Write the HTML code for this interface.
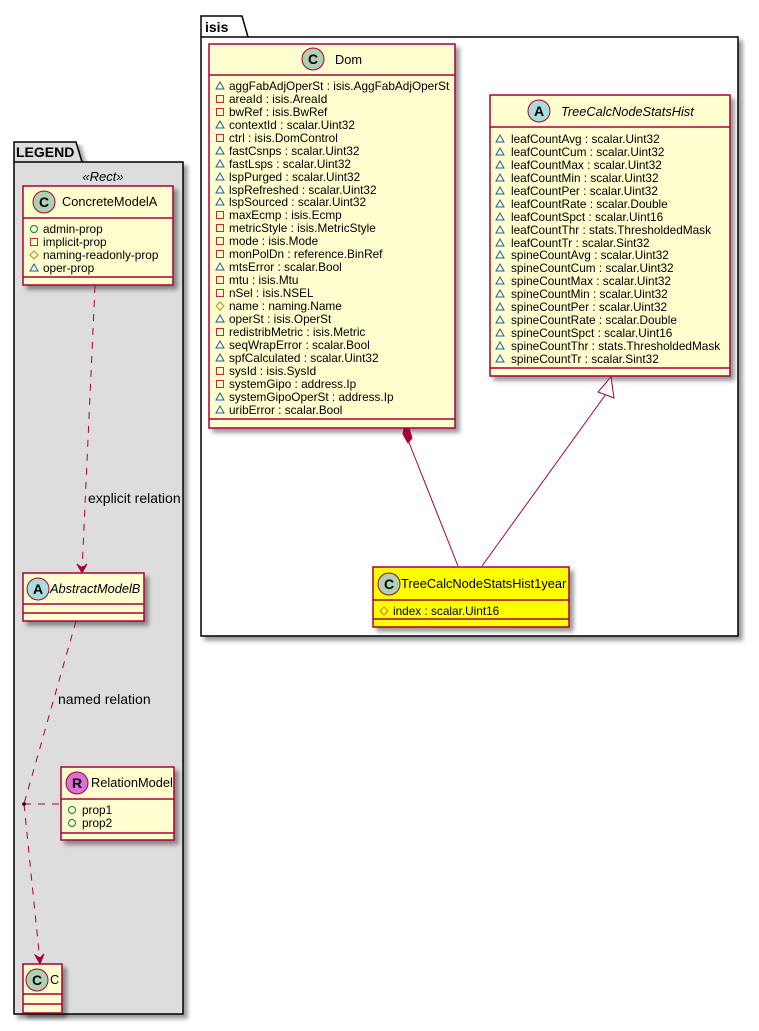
<!DOCTYPE html>
<html><head><meta charset="utf-8"><style>
html,body{margin:0;padding:0;background:#fff;width:759px;height:1031px;overflow:hidden}
svg text{font-family:"Liberation Sans",sans-serif;fill:#000}
</style></head><body>
<svg width="759" height="1031" viewBox="0 0 759 1031" xmlns="http://www.w3.org/2000/svg">
<defs>
<filter id="sh" x="-10%" y="-10%" width="130%" height="130%"><feGaussianBlur in="SourceAlpha" stdDeviation="2"/><feOffset dx="4" dy="4"/><feComponentTransfer><feFuncA type="linear" slope="0.4"/></feComponentTransfer><feMerge><feMergeNode/><feMergeNode in="SourceGraphic"/></feMerge></filter>
<g id="tri"><polygon points="-4,3 4,3 0,-4" fill="none" stroke="#1963A0" stroke-width="1"/></g>
<g id="sq"><rect x="-3.5" y="-3.5" width="7" height="7" fill="none" stroke="#C82930" stroke-width="1"/></g>
<g id="dia"><polygon points="0,-4 4,0 0,4 -4,0" fill="none" stroke="#B38D22" stroke-width="1"/></g>
<g id="cir"><circle r="3.5" fill="none" stroke="#038048" stroke-width="1"/></g>
</defs>

<!-- LEGEND package -->
<path d="M14,162 L14,142 L76,142 L82,162" fill="#DDDDDD" stroke="#000" stroke-width="1.5" filter="url(#sh)"/>
<rect x="14" y="162" width="169" height="852" fill="#DDDDDD" stroke="#000" stroke-width="1.5" filter="url(#sh)"/>
<text x="16" y="157" font-size="14" font-weight="bold">LEGEND</text>
<text x="103" y="181" font-size="13" font-style="italic" text-anchor="middle">«Rect»</text>

<!-- isis package -->
<path d="M201,37 L201,16 L242,16 L248,37" fill="#fff" stroke="#000" stroke-width="1.5"/>
<rect x="201" y="37" width="537" height="599" fill="#fff" stroke="#000" stroke-width="1.5" filter="url(#sh)"/>
<text x="205" y="32" font-size="14" font-weight="bold">isis</text>

<!-- ConcreteModelA -->
<g>
<rect x="23" y="186" width="150" height="99" fill="#FEFECE" stroke="#A80036" stroke-width="1.5" filter="url(#sh)"/>
<line x1="23" y1="218" x2="173" y2="218" stroke="#A80036" stroke-width="1.5"/>
<line x1="23" y1="277" x2="173" y2="277" stroke="#A80036" stroke-width="1.5"/>
<circle cx="44" cy="202" r="11" fill="#ADD1B2" stroke="#A80036"/>
<text x="44" y="207" font-size="14" font-weight="bold" text-anchor="middle">C</text>
<text x="62" y="206" font-size="12.8">ConcreteModelA</text>
<g font-size="11.8">
<use href="#cir" x="34" y="229"/><text x="43" y="233">admin-prop</text>
<use href="#sq" x="34" y="242"/><text x="43" y="246">implicit-prop</text>
<use href="#dia" x="34" y="255"/><text x="43" y="259">naming-readonly-prop</text>
<use href="#tri" x="34" y="268"/><text x="43" y="272">oper-prop</text>
</g>
</g>

<!-- AbstractModelB -->
<rect x="23" y="573" width="121" height="48" fill="#FEFECE" stroke="#A80036" stroke-width="1.5" filter="url(#sh)"/>
<line x1="23" y1="604" x2="144" y2="604" stroke="#A80036" stroke-width="1.5"/>
<line x1="23" y1="613" x2="144" y2="613" stroke="#A80036" stroke-width="1.5"/>
<circle cx="38" cy="589" r="11" fill="#A9DCDF" stroke="#A80036"/>
<text x="38" y="594" font-size="14" font-weight="bold" text-anchor="middle">A</text>
<text x="50" y="593" font-size="12.8" font-style="italic">AbstractModelB</text>

<!-- RelationModel -->
<rect x="61" y="767" width="113" height="73" fill="#FEFECE" stroke="#A80036" stroke-width="1.5" filter="url(#sh)"/>
<line x1="61" y1="799" x2="174" y2="799" stroke="#A80036" stroke-width="1.5"/>
<line x1="61" y1="833" x2="174" y2="833" stroke="#A80036" stroke-width="1.5"/>
<circle cx="77" cy="783" r="11" fill="#DA70D6" stroke="#A80036"/>
<text x="77" y="788" font-size="14" font-weight="bold" text-anchor="middle">R</text>
<text x="91" y="787" font-size="12.8">RelationModel</text>
<use href="#cir" x="72" y="810"/><text x="82" y="814" font-size="11.8">prop1</text>
<use href="#cir" x="72" y="823"/><text x="82" y="827" font-size="11.8">prop2</text>

<!-- C -->
<rect x="23" y="964" width="39" height="49" fill="#FEFECE" stroke="#A80036" stroke-width="1.5" filter="url(#sh)"/>
<line x1="23" y1="994" x2="62" y2="994" stroke="#A80036" stroke-width="1.5"/>
<line x1="23" y1="1004" x2="62" y2="1004" stroke="#A80036" stroke-width="1.5"/>
<circle cx="37" cy="980" r="11" fill="#ADD1B2" stroke="#A80036"/>
<text x="37" y="985" font-size="14" font-weight="bold" text-anchor="middle">C</text>
<text x="50" y="984" font-size="12.8">C</text>

<!-- legend relations -->
<g stroke="#A80036" stroke-width="1" fill="none" stroke-dasharray="7,7">
<path d="M95,286 L82,571"/>
<path d="M76,621 L24,804"/>
<path d="M24,804 L40,962"/>
<path d="M24,804 L61,804"/>
</g>
<path d="M77,564 L82,573 L87,564 L82,568 Z" fill="#A80036" stroke="#A80036"/>
<path d="M35,955 L40,964 L44,954 L40,958 Z" fill="#A80036" stroke="#A80036"/>
<circle cx="24" cy="804" r="1.8" fill="#000"/>
<text x="88" y="503" font-size="14">explicit relation</text>
<text x="58" y="704" font-size="14">named relation</text>

<!-- Dom -->
<rect x="209" y="44" width="246" height="384" fill="#FEFECE" stroke="#A80036" stroke-width="1.5" filter="url(#sh)"/>
<line x1="209" y1="75" x2="455" y2="75" stroke="#A80036" stroke-width="1.5"/>
<line x1="209" y1="419" x2="455" y2="419" stroke="#A80036" stroke-width="1.5"/>
<circle cx="313" cy="59" r="11" fill="#ADD1B2" stroke="#A80036"/>
<text x="313" y="64" font-size="14" font-weight="bold" text-anchor="middle">C</text>
<text x="335" y="64" font-size="12.8">Dom</text>
<g font-size="11.8">
<use href="#tri" x="220" y="86"/><text x="229" y="90">aggFabAdjOperSt : isis.AggFabAdjOperSt</text>
<use href="#sq" x="220" y="99"/><text x="229" y="103">areaId : isis.AreaId</text>
<use href="#sq" x="220" y="112"/><text x="229" y="116">bwRef : isis.BwRef</text>
<use href="#tri" x="220" y="125"/><text x="229" y="129">contextId : scalar.Uint32</text>
<use href="#sq" x="220" y="138"/><text x="229" y="142">ctrl : isis.DomControl</text>
<use href="#tri" x="220" y="151"/><text x="229" y="155">fastCsnps : scalar.Uint32</text>
<use href="#tri" x="220" y="164"/><text x="229" y="168">fastLsps : scalar.Uint32</text>
<use href="#tri" x="220" y="177"/><text x="229" y="181">lspPurged : scalar.Uint32</text>
<use href="#tri" x="220" y="190"/><text x="229" y="194">lspRefreshed : scalar.Uint32</text>
<use href="#tri" x="220" y="202"/><text x="229" y="206">lspSourced : scalar.Uint32</text>
<use href="#sq" x="220" y="215"/><text x="229" y="219">maxEcmp : isis.Ecmp</text>
<use href="#sq" x="220" y="228"/><text x="229" y="232">metricStyle : isis.MetricStyle</text>
<use href="#sq" x="220" y="241"/><text x="229" y="245">mode : isis.Mode</text>
<use href="#sq" x="220" y="254"/><text x="229" y="258">monPolDn : reference.BinRef</text>
<use href="#tri" x="220" y="267"/><text x="229" y="271">mtsError : scalar.Bool</text>
<use href="#sq" x="220" y="280"/><text x="229" y="284">mtu : isis.Mtu</text>
<use href="#sq" x="220" y="293"/><text x="229" y="297">nSel : isis.NSEL</text>
<use href="#dia" x="220" y="306"/><text x="229" y="310">name : naming.Name</text>
<use href="#tri" x="220" y="319"/><text x="229" y="323">operSt : isis.OperSt</text>
<use href="#sq" x="220" y="332"/><text x="229" y="336">redistribMetric : isis.Metric</text>
<use href="#tri" x="220" y="345"/><text x="229" y="349">seqWrapError : scalar.Bool</text>
<use href="#tri" x="220" y="358"/><text x="229" y="362">spfCalculated : scalar.Uint32</text>
<use href="#sq" x="220" y="371"/><text x="229" y="375">sysId : isis.SysId</text>
<use href="#sq" x="220" y="384"/><text x="229" y="388">systemGipo : address.Ip</text>
<use href="#tri" x="220" y="397"/><text x="229" y="401">systemGipoOperSt : address.Ip</text>
<use href="#tri" x="220" y="410"/><text x="229" y="414">uribError : scalar.Bool</text>
</g>

<!-- TreeCalcNodeStatsHist -->
<rect x="490" y="95" width="240" height="281" fill="#FEFECE" stroke="#A80036" stroke-width="1.5" filter="url(#sh)"/>
<line x1="490" y1="127" x2="730" y2="127" stroke="#A80036" stroke-width="1.5"/>
<line x1="490" y1="368" x2="730" y2="368" stroke="#A80036" stroke-width="1.5"/>
<circle cx="539" cy="111" r="11" fill="#A9DCDF" stroke="#A80036"/>
<text x="539" y="116" font-size="14" font-weight="bold" text-anchor="middle">A</text>
<text x="561" y="116" font-size="12.8" font-style="italic">TreeCalcNodeStatsHist</text>
<g font-size="11.8">
<use href="#tri" x="500" y="139"/><text x="511" y="143">leafCountAvg : scalar.Uint32</text>
<use href="#tri" x="500" y="152"/><text x="511" y="156">leafCountCum : scalar.Uint32</text>
<use href="#tri" x="500" y="165"/><text x="511" y="169">leafCountMax : scalar.Uint32</text>
<use href="#tri" x="500" y="178"/><text x="511" y="182">leafCountMin : scalar.Uint32</text>
<use href="#tri" x="500" y="191"/><text x="511" y="195">leafCountPer : scalar.Uint32</text>
<use href="#tri" x="500" y="204"/><text x="511" y="208">leafCountRate : scalar.Double</text>
<use href="#tri" x="500" y="217"/><text x="511" y="221">leafCountSpct : scalar.Uint16</text>
<use href="#tri" x="500" y="230"/><text x="511" y="234">leafCountThr : stats.ThresholdedMask</text>
<use href="#tri" x="500" y="243"/><text x="511" y="247">leafCountTr : scalar.Sint32</text>
<use href="#tri" x="500" y="255"/><text x="511" y="259">spineCountAvg : scalar.Uint32</text>
<use href="#tri" x="500" y="268"/><text x="511" y="272">spineCountCum : scalar.Uint32</text>
<use href="#tri" x="500" y="281"/><text x="511" y="285">spineCountMax : scalar.Uint32</text>
<use href="#tri" x="500" y="294"/><text x="511" y="298">spineCountMin : scalar.Uint32</text>
<use href="#tri" x="500" y="307"/><text x="511" y="311">spineCountPer : scalar.Uint32</text>
<use href="#tri" x="500" y="320"/><text x="511" y="324">spineCountRate : scalar.Double</text>
<use href="#tri" x="500" y="333"/><text x="511" y="337">spineCountSpct : scalar.Uint16</text>
<use href="#tri" x="500" y="346"/><text x="511" y="350">spineCountThr : stats.ThresholdedMask</text>
<use href="#tri" x="500" y="359"/><text x="511" y="363">spineCountTr : scalar.Sint32</text>
</g>

<!-- connectors -->
<line x1="408" y1="440" x2="458" y2="566" stroke="#A80036" stroke-width="1"/>
<path d="M404,429 L409,428 L412,438 L408,443 L403,434 Z" fill="#A80036" stroke="#A80036"/>
<line x1="482" y1="566" x2="606" y2="394" stroke="#A80036" stroke-width="1"/>
<path d="M611,377 L614,398 L598,392 Z" fill="#fff" stroke="#A80036" stroke-width="1"/>

<!-- TreeCalcNodeStatsHist1year -->
<rect x="373" y="567" width="196" height="60" fill="#FFFF00" stroke="#A80036" stroke-width="1.5" filter="url(#sh)"/>
<line x1="373" y1="600" x2="569" y2="600" stroke="#A80036" stroke-width="1.5"/>
<line x1="373" y1="619" x2="569" y2="619" stroke="#A80036" stroke-width="1.5"/>
<circle cx="389" cy="584" r="11" fill="#ADD1B2" stroke="#A80036"/>
<text x="389" y="589" font-size="14" font-weight="bold" text-anchor="middle">C</text>
<text x="401" y="588" font-size="12.8">TreeCalcNodeStatsHist1year</text>
<use href="#dia" x="384" y="611"/><text x="393" y="615" font-size="11.8">index : scalar.Uint16</text>
</svg>
</body></html>
